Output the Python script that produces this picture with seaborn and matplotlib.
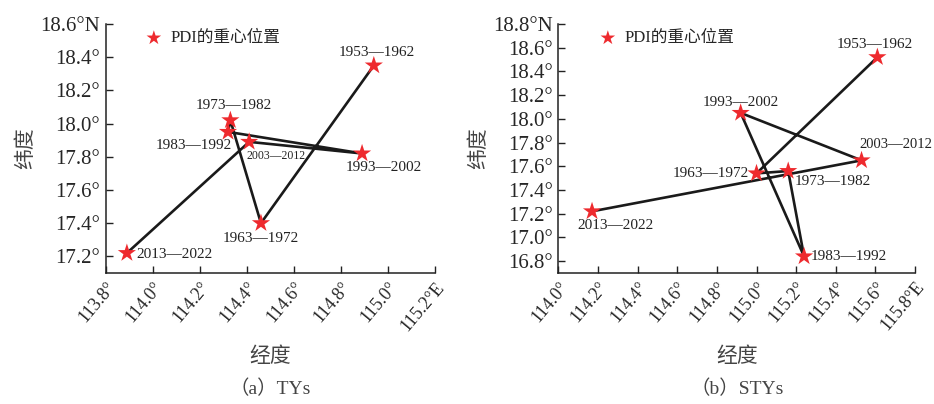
import numpy as np
import pandas as pd
import matplotlib
matplotlib.use("Agg")
import matplotlib.pyplot as plt
import seaborn as sns

# decade labels, in chronological order (the track follows this order)
decades = ["1953—1962", "1963—1972", "1973—1982", "1983—1992",
           "1993—2002", "2003—2012", "2013—2022"]

# (a) TYs: centre of gravity of PDI
ty_lon = [114.94, 114.46, 114.33, 114.32, 114.89, 114.41, 113.89]
ty_lat = [18.35, 17.40, 18.02, 17.95, 17.82, 17.89, 17.22]

# (b) STYs
sty_lon = [115.61, 115.00, 115.16, 115.24, 114.92, 115.53, 114.17]
sty_lat = [18.52, 17.54, 17.56, 16.84, 18.05, 17.65, 17.22]

ty_xticks = [113.8, 114.0, 114.2, 114.4, 114.6, 114.8, 115.0, 115.2]
ty_yticks = [17.2, 17.4, 17.6, 17.8, 18.0, 18.2, 18.4, 18.6]
sty_xticks = [114.0, 114.2, 114.4, 114.6, 114.8, 115.0, 115.2, 115.4, 115.6, 115.8]
sty_yticks = [16.8, 17.0, 17.2, 17.4, 17.6, 17.8, 18.0, 18.2, 18.4, 18.6, 18.8]

# label offsets in pixels: (dx, dy, ha, fontsize)
ty_offsets = [(3, 13, "center", 11), (0, -15, "center", 11), (3, 15, "center", 11),
              (4, -14, "right", 11), (22, -14, "center", 11), (-3, -14, "left", 8.5),
              (9, -1, "left", 11)]
sty_offsets = [(-3, 13, "center", 11), (-8, 0, "right", 11), (6, -10, "left", 11),
               (7, 0, "left", 11), (0, 10, "center", 11), (34, 16, "center", 10.5),
               (23, -14, "center", 11)]

sns.set_style("ticks")
FONTS = ["Liberation Serif", "Noto Sans CJK SC"]
plt.rcParams["font.family"] = FONTS
plt.rcParams["axes.unicode_minus"] = False

RED = "#ee2a2e"


def draw_panel(ax, lon, lat, offsets, xticks, yticks, ylim, caption):
    df = pd.DataFrame({"lon": lon, "lat": lat, "decade": decades})
    sns.lineplot(data=df, x="lon", y="lat", sort=False, estimator=None,
                 color="#1a1a1a", linewidth=1.9, ax=ax, zorder=2)
    sns.scatterplot(data=df, x="lon", y="lat", marker="*", s=190, color=RED,
                    edgecolor="none", ax=ax, zorder=3, label="PDI的重心位置")
    for (x, y, name), (dx, dy, ha, fs) in zip(zip(lon, lat, decades), offsets):
        ax.annotate(name, (x, y), xytext=(dx, dy), textcoords="offset pixels",
                    ha=ha, va="center", fontsize=fs, color="#222222")

    ax.set_xlim(xticks[0], xticks[-1])
    ax.set_ylim(*ylim)
    ax.set_xticks(xticks)
    ax.set_yticks(yticks)
    xl = [f"{v:.1f}°" for v in xticks]
    xl[-1] += "E"
    yl = [f"{v:.1f}°" for v in yticks]
    yl[-1] += "N"
    ax.set_xticklabels(xl, rotation=50, ha="right", va="top",
                       rotation_mode="anchor", fontsize=13)
    ax.set_yticklabels(yl, fontsize=15)
    ax.tick_params(direction="in", length=5, width=1, color="#222222", pad=4)
    for s in ["left", "bottom"]:
        ax.spines[s].set_linewidth(1.1)
        ax.spines[s].set_color("#222222")
    sns.despine(ax=ax)
    ax.set_xlabel("")
    ax.set_ylabel("纬度", fontsize=15, color="#444444", labelpad=3)
    ax.legend(loc="upper left", bbox_to_anchor=(0.05, 1.035), frameon=False,
              handletextpad=0.0, fontsize=12, markerscale=0.8)
    ax.text(0.5, -0.34, "经度", transform=ax.transAxes, ha="center",
            va="center", fontsize=15, color="#444444")
    ax.text(0.5, -0.465, caption, transform=ax.transAxes, ha="center",
            va="center", fontsize=14, color="#444444")


fig = plt.figure(figsize=(9.34, 4.04), dpi=100)
ax1 = fig.add_axes([0.1132, 0.3243, 0.3525, 0.6163])
ax2 = fig.add_axes([0.5978, 0.3243, 0.3819, 0.6163])

draw_panel(ax1, ty_lon, ty_lat, ty_offsets, ty_xticks, ty_yticks,
           (17.1, 18.6), "（a）TYs")
draw_panel(ax2, sty_lon, sty_lat, sty_offsets, sty_xticks, sty_yticks,
           (16.7, 18.8), "（b）STYs")

fig.savefig("out.png", dpi=100)
